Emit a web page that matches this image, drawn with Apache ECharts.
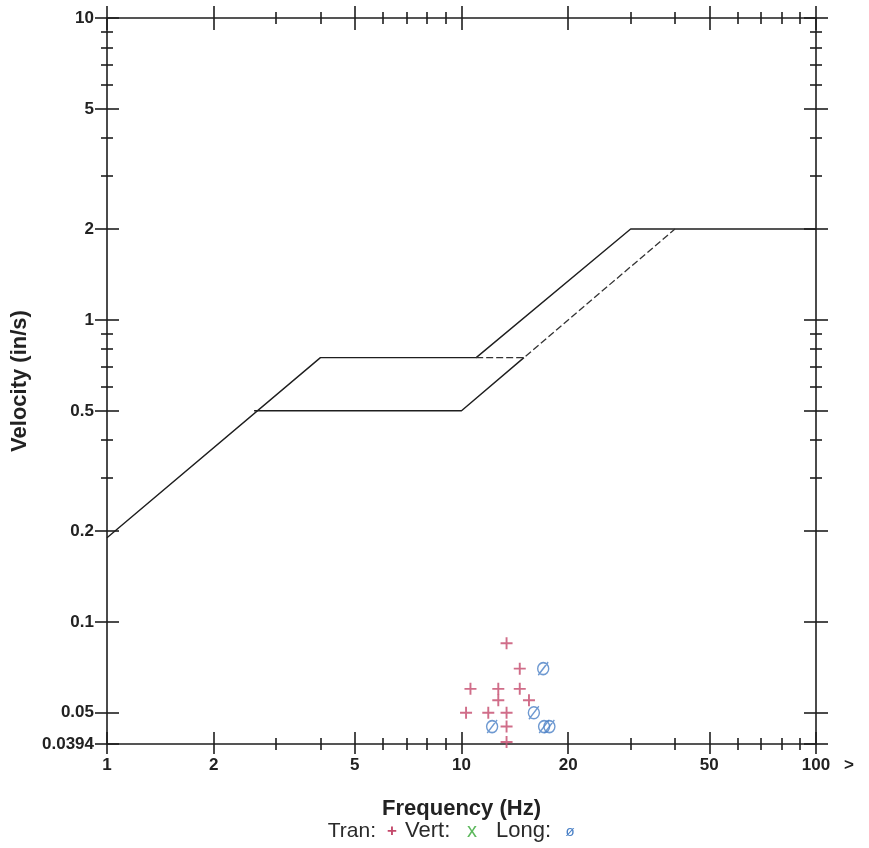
<!DOCTYPE html>
<html>
<head>
<meta charset="utf-8">
<script src="https://cdn.jsdelivr.net/npm/echarts@6/dist/echarts.min.js"></script>
<style>
html,body{margin:0;padding:0;background:#fff;}
#chart{width:869px;height:848px;}
</style>
</head>
<body>
<div id="chart"></div>
<script>
// ---- data ----
const xMajorTicks = [1, 2, 5, 10, 20, 50, 100];
const xTickLabels = ['1', '2', '5', '10', '20', '50', '100'];
const xMinorTicks = [3, 4, 6, 7, 8, 9, 30, 40, 60, 70, 80, 90];
const yMajorTicks = [0.0394, 0.05, 0.1, 0.2, 0.5, 1, 2, 5, 10];
const yTickLabels = ['0.0394', '0.05', '0.1', '0.2', '0.5', '1', '2', '5', '10'];
const yMinorTicks = [0.3, 0.4, 0.6, 0.7, 0.8, 0.9, 3, 4, 6, 7, 8, 9];

// limit curves
const upperFreq = [1, 4, 11, 30, 100];
const upperVel = [0.19, 0.75, 0.75, 2, 2];
const lowerFreq = [2.6, 10, 15];
const lowerVel = [0.5, 0.5, 0.75];
const dashedFreq = [11, 15, 40];
const dashedVel = [0.75, 0.75, 2];

// events
const tranFreq = [13.4, 14.6, 10.6, 12.7, 14.6, 12.7, 15.5, 10.3, 11.9, 13.4, 13.4, 13.4];
const tranVel = [0.085, 0.07, 0.06, 0.06, 0.06, 0.055, 0.055, 0.05, 0.05, 0.05, 0.045, 0.04];
const vertFreq = [];
const vertVel = [];
const longFreq = [17.0, 16.0, 12.2, 17.1, 17.7];
const longVel = [0.07, 0.05, 0.045, 0.045, 0.045];

// legend texts
const legendNames = ['Tran:', 'Vert:', 'Long:'];
const legendMarks = ['+', 'x', 'ø'];

const zip = (a, b) => a.map((v, i) => [v, b[i]]);
const INK = '#1e1e1e';
const FONT = '"Liberation Sans", Arial, sans-serif';
const RED = '#c4496b', GREEN = '#5cb85c', BLUE = '#4a80c6';

function labelFor(vals, labs) {
  return function (v) {
    let best = 0, bd = Infinity;
    vals.forEach((t, i) => { const d = Math.abs(Math.log(t) - Math.log(v)); if (d < bd) { bd = d; best = i; } });
    return labs[best];
  };
}

function mkAxis(dim, pos, ticks, len, inside, main) {
  const isX = dim === 'x';
  const a = {
    type: 'log', logBase: 10,
    min: isX ? 1 : 0.0394, max: isX ? 100 : 10,
    position: pos,
    axisLine: { show: !!main, onZero: false, lineStyle: { color: INK, width: 1.6 } },
    axisTick: { show: true, inside: inside, length: len, customValues: ticks,
      lineStyle: { color: INK, width: 1.6 } },
    axisLabel: { show: false },
    splitLine: { show: false },
    minorTick: { show: false },
    minorSplitLine: { show: false }
  };
  if (main === 'label') {
    a.axisLabel = {
      show: true, customValues: isX ? xMajorTicks : yMajorTicks,
      formatter: isX ? labelFor(xMajorTicks, xTickLabels) : labelFor(yMajorTicks, yTickLabels),
      color: '#222', fontSize: 17, fontWeight: 'bold', fontFamily: FONT,
      margin: 13
    };
    a.nameLocation = 'middle';
    a.nameTextStyle = { color: '#222', fontSize: 22, fontWeight: 'bold', fontFamily: FONT };
    if (isX) {
      a.name = 'Frequency (Hz)';
      a.nameGap = 54;
    } else {
      a.name = 'Velocity (in/s)';
      a.nameGap = 75;
      a.nameRotate = 90;
    }
  }
  return a;
}

const xAxes = [
  mkAxis('x', 'bottom', xMajorTicks, 10, false, 'label'),
  mkAxis('x', 'bottom', xMajorTicks, 12, true),
  mkAxis('x', 'bottom', xMinorTicks, 6, false),
  mkAxis('x', 'bottom', xMinorTicks, 6, true),
  mkAxis('x', 'top', xMajorTicks, 12, false, true),
  mkAxis('x', 'top', xMajorTicks, 12, true),
  mkAxis('x', 'top', xMinorTicks, 6, false),
  mkAxis('x', 'top', xMinorTicks, 6, true)
];
const yAxes = [
  mkAxis('y', 'left', yMajorTicks, 12, false, 'label'),
  mkAxis('y', 'left', yMajorTicks, 12, true),
  mkAxis('y', 'left', yMinorTicks, 6, false),
  mkAxis('y', 'left', yMinorTicks, 6, true),
  mkAxis('y', 'right', yMajorTicks, 12, false, true),
  mkAxis('y', 'right', yMajorTicks, 12, true),
  mkAxis('y', 'right', yMinorTicks, 6, false),
  mkAxis('y', 'right', yMinorTicks, 6, true)
];

const lineBase = { type: 'line', xAxisIndex: 0, yAxisIndex: 0, showSymbol: false, symbol: 'none',
  silent: true, z: 3 };

const plusPath = 'path://M4.2,0H5.8V4.2H10V5.8H5.8V10H4.2V5.8H0V4.2H4.2Z';
const oslashPath = 'path://M10,6A5,6,0,1,1,0,6A5,6,0,1,1,10,6ZM0.5,12.5L9.5,-0.5';

const option = {
  animation: false,
  backgroundColor: '#ffffff',
  grid: { left: 107, right: 53, top: 18, bottom: 104, containLabel: false, outerBoundsMode: 'none' },
  xAxis: xAxes,
  yAxis: yAxes,
  series: [
    Object.assign({}, lineBase, { name: 'upper', data: zip(upperFreq, upperVel),
      lineStyle: { color: INK, width: 1.4 } }),
    Object.assign({}, lineBase, { name: 'lower', data: zip(lowerFreq, lowerVel),
      lineStyle: { color: INK, width: 1.4 } }),
    Object.assign({}, lineBase, { name: 'dashed', data: zip(dashedFreq, dashedVel),
      lineStyle: { color: '#333', width: 1.3, type: [7, 3] } }),
    { type: 'scatter', name: 'Tran', xAxisIndex: 0, yAxisIndex: 0, data: zip(tranFreq, tranVel),
      symbol: plusPath, symbolSize: 12, itemStyle: { color: RED }, z: 5 },
    { type: 'scatter', name: 'Vert', xAxisIndex: 0, yAxisIndex: 0, data: zip(vertFreq, vertVel),
      symbol: 'path://M0,0L10,10M10,0L0,10', symbolSize: 10,
      itemStyle: { color: 'none', borderColor: GREEN, borderWidth: 1.5 }, z: 5 },
    { type: 'scatter', name: 'Long', xAxisIndex: 0, yAxisIndex: 0, data: zip(longFreq, longVel),
      symbol: oslashPath, symbolSize: [11, 13],
      itemStyle: { color: 'none', borderColor: BLUE, borderWidth: 1.5 }, z: 5 }
  ],
  graphic: [
    { type: 'text', left: 844, top: 757,
      style: { text: '>', fill: '#222', font: 'bold 17px ' + FONT } },
    { type: 'text', x: 376, y: 831, style: { text: legendNames[0], align: 'right', verticalAlign: 'middle', fill: '#2a2a2a', font: '21px ' + FONT } },
    { type: 'text', x: 392, y: 831, style: { text: legendMarks[0], align: 'center', verticalAlign: 'middle', fill: RED, font: 'bold 17px ' + FONT } },
    { type: 'text', x: 405, y: 831, style: { text: legendNames[1], align: 'left', verticalAlign: 'middle', fill: '#2a2a2a', font: '22px ' + FONT } },
    { type: 'text', x: 472, y: 831, style: { text: legendMarks[1], align: 'center', verticalAlign: 'middle', fill: GREEN, font: '20px ' + FONT } },
    { type: 'text', x: 496, y: 831, style: { text: legendNames[2], align: 'left', verticalAlign: 'middle', fill: '#2a2a2a', font: '22px ' + FONT } },
    { type: 'text', x: 570, y: 832, style: { text: legendMarks[2], align: 'center', verticalAlign: 'middle', fill: BLUE, font: '15px ' + FONT } }
  ]
};

const chart = echarts.init(document.getElementById('chart'), null, { renderer: 'canvas' });
chart.setOption(option);
</script>
</body>
</html>
